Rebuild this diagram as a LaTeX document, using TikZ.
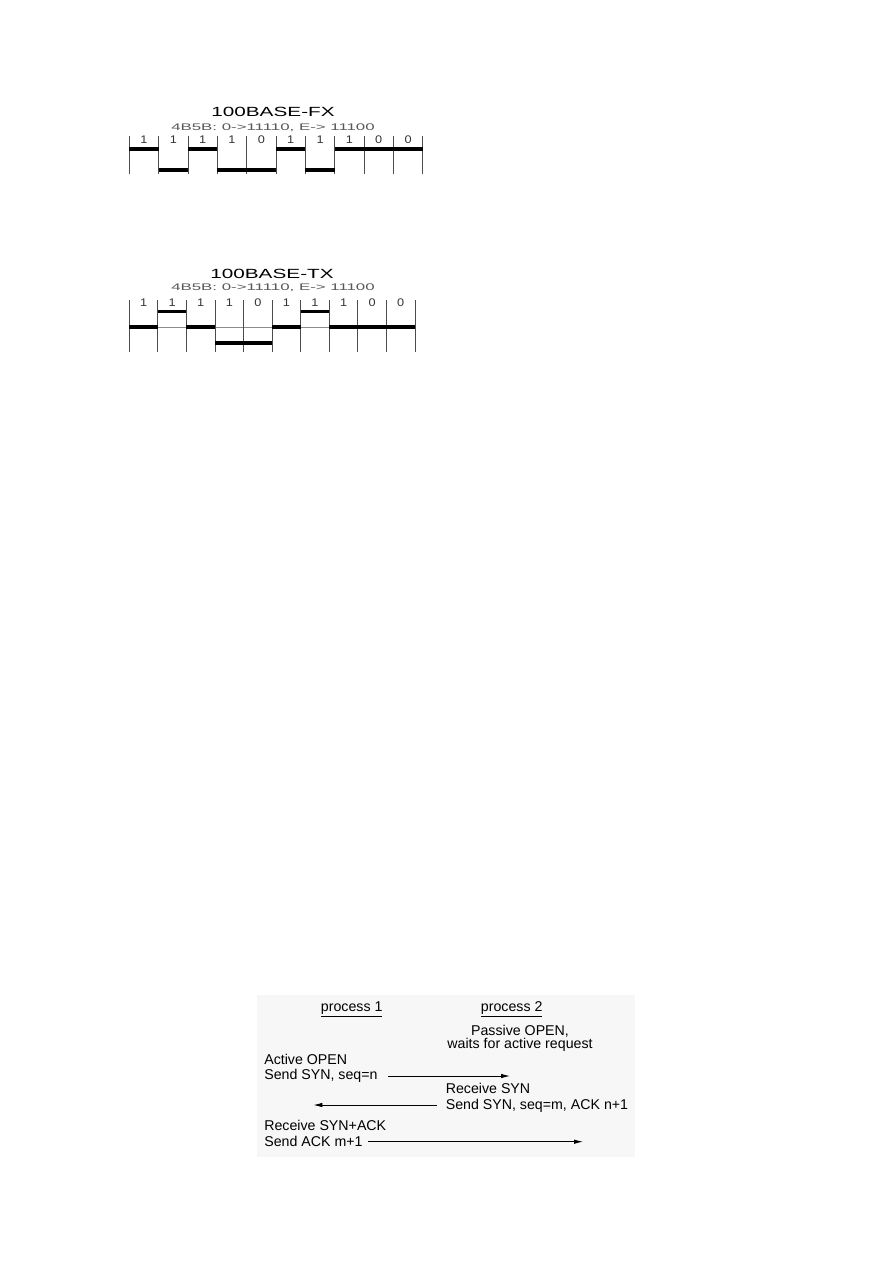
\documentclass[tikz,border=0pt]{standalone}
\usepackage{fontspec}
\setmainfont{Liberation Sans}
\usetikzlibrary{arrows.meta}
\begin{document}
\begin{tikzpicture}[x=0.023516cm,y=-0.023516cm,
  grid/.style={draw=black!70,line width=0.6pt},
  bar/.style={draw=black,line width=2.2pt},
  thinbase/.style={draw=black!45,line width=0.5pt},
  ttl/.style={anchor=base,inner sep=0pt,font=\fontsize{8.9}{10}\selectfont},
  subttl/.style={anchor=base,inner sep=0pt,text=black!65,font=\fontsize{6.4}{7}\selectfont},
  bit/.style={anchor=base,inner sep=0pt,text=black!80,font=\fontsize{7.4}{8}\selectfont},
  txt/.style={anchor=base west,inner sep=0pt,font=\fontsize{9.5}{11}\selectfont},
  ctxt/.style={anchor=base,inner sep=0pt,font=\fontsize{9.5}{11}\selectfont},
  msg/.style={-{Latex[length=6pt,width=3pt]},line width=0.6pt}
]
\useasboundingbox[fill=white] (0,0) rectangle (893,1263);

% ---------------- 100BASE-FX ----------------
\node[ttl] (fxt) at (273,116.7) {\scalebox{1.56}[1]{100BASE-FX}};
\node[subttl] (fxs) at (273,130) {\scalebox{1.76}[1]{4B5B: 0->11110, E-> 11100}};
\foreach \b [count=\i from 0] in {1,1,1,1,0,1,1,1,0,0}
  \node[bit] (fxb\i) at ({129.3+29.35*(\i+0.5)},143.5) {\scalebox{1.15}[1]{\b}};
\foreach \i in {0,...,10}
  \draw[grid] ({129.3+29.35*\i},136) -- ({129.3+29.35*\i},174);
\foreach \a/\b/\y in {0/1/149, 1/2/170, 2/3/149, 3/5/170, 5/6/149, 6/7/170, 7/10/149}
  \draw[bar] ({129.3+29.35*\a},\y) -- ({129.3+29.35*\b},\y);

% ---------------- 100BASE-TX ----------------
\node[ttl] (txt) at (272,278) {\scalebox{1.56}[1]{100BASE-TX}};
\node[subttl] (txs) at (273,290.7) {\scalebox{1.76}[1]{4B5B: 0->11110, E-> 11100}};
\foreach \b [count=\i from 0] in {1,1,1,1,0,1,1,1,0,0}
  \node[bit] (txb\i) at ({129.3+28.57*(\i+0.5)},306) {\scalebox{1.15}[1]{\b}};
\draw[thinbase] (129.3,327) -- (415,327);
\foreach \i in {0,...,10}
  \draw[grid] ({129.3+28.57*\i},300) -- ({129.3+28.57*\i},352);
\foreach \a/\b/\y in {0/1/327, 1/2/311.7, 2/3/327, 3/5/343, 5/6/327, 6/7/311.7, 7/10/327}
  \draw[bar] ({129.3+28.57*\a},\y) -- ({129.3+28.57*\b},\y);

% ---------------- TCP three-way handshake ----------------
\fill[black!3] (256.7,995) rectangle (635,1156.7);
\node[ctxt] (p1) at (351.7,1011) {\underline{process 1}};
\node[ctxt] (p2) at (511.7,1011) {\underline{process 2}};
\node[ctxt] (pas1) at (520,1035) {Passive OPEN,};
\node[ctxt] (pas2) at (520,1048.3) {waits for active request};
\node[txt] (act) at (264,1064) {Active OPEN};
\node[txt] (snd1) at (264,1079.3) {Send SYN, seq=n};
\node[txt] (rcv1) at (445.5,1093.3) {Receive SYN};
\node[txt] (snd2) at (445.5,1109.3) {Send SYN, seq=m, ACK n+1};
\node[txt] (rcv2) at (264,1130) {Receive SYN+ACK};
\node[txt] (snd3) at (264,1146) {Send ACK m+1};
\coordinate (a1s) at (388,1076);
\coordinate (a1e) at (510,1076);
\coordinate (a2s) at (436.7,1105);
\coordinate (a2e) at (313.3,1105);
\coordinate (a3s) at (368,1141.7);
\coordinate (a3e) at (583,1141.7);
\draw[msg] (a1s) -- (a1e);
\draw[msg] (a2s) -- (a2e);
\draw[msg] (a3s) -- (a3e);
\end{tikzpicture}
\end{document}
